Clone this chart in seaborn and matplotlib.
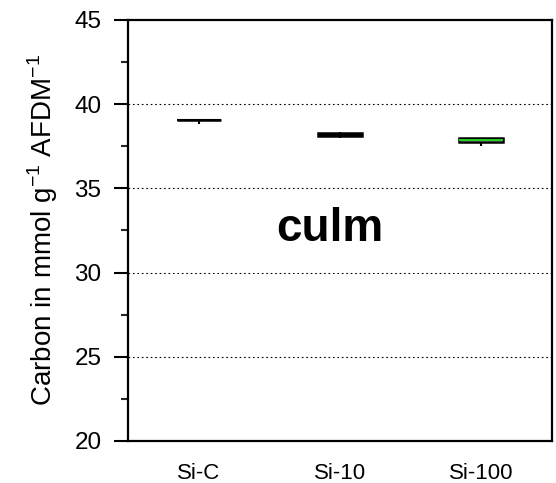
import numpy as np
import pandas as pd
import seaborn as sns
import matplotlib
matplotlib.use("Agg")
import matplotlib.pyplot as plt
from matplotlib.ticker import MultipleLocator

categories = ["Si-C", "Si-10", "Si-100"]
si_c = [38.82, 39.05, 39.06, 39.06, 39.07]
si_10 = [37.98, 38.12, 38.20, 38.28, 38.33]
si_100 = [37.52, 37.75, 37.87, 37.98, 38.00]
median_colors = ["black", "black", "#22cc22"]
box_fills = ["white", "black", "white"]
ylabel = "Carbon in mmol g$^{-1}$ AFDM$^{-1}$"
annotation = "culm"

sns.set_theme(style="white")
plt.rcParams["font.family"] = ["Liberation Sans", "DejaVu Sans"]
plt.rcParams["mathtext.fontset"] = "custom"
plt.rcParams["mathtext.rm"] = "Liberation Sans"

df = pd.DataFrame({
    "group": np.repeat(categories, [len(si_c), len(si_10), len(si_100)]),
    "value": si_c + si_10 + si_100,
})

fig = plt.figure(figsize=(5.56, 4.83), dpi=100)
ax = fig.add_axes([0.230, 0.087, 0.763, 0.872])

sns.boxplot(data=df, x="group", y="value", order=categories, ax=ax,
            width=0.31, whis=np.inf, showcaps=False,
            boxprops=dict(facecolor="white", edgecolor="black", linewidth=1.8),
            whiskerprops=dict(color="black", linewidth=1.5),
            medianprops=dict(color="black", linewidth=1.8))

for patch, fc in zip(ax.patches, box_fills):
    patch.set_facecolor(fc)

nlines = len(ax.lines) // len(categories)
for i, c in enumerate(median_colors):
    for ln in ax.lines[i * nlines:(i + 1) * nlines]:
        xd = ln.get_xdata()
        yd = ln.get_ydata()
        if len(yd) == 2 and yd[0] == yd[1] and abs(xd[1] - xd[0]) > 0.1:
            ln.set_color(c)
            ln.set_linewidth(1.5)

ax.set_ylim(20, 45)
ax.set_xlim(-0.5, 2.5)
ax.yaxis.set_major_locator(MultipleLocator(5))
ax.yaxis.set_minor_locator(MultipleLocator(2.5))
for yv in [25, 30, 35, 40]:
    ax.axhline(yv, color="black", linestyle=(0, (1.5, 2.5)), linewidth=0.8, zorder=0)

for s in ax.spines.values():
    s.set_visible(True)
    s.set_color("black")
    s.set_linewidth(1.6)

ax.tick_params(axis="y", which="major", direction="out", length=10, width=1.5,
               labelsize=17.5, left=True, pad=9, colors="black")
ax.tick_params(axis="y", which="minor", direction="out", length=5, width=1.5, left=True)
ax.tick_params(axis="x", which="both", bottom=False, labelsize=16, pad=10)
for t in ax.get_yticklabels():
    t.set_color("black")
for t in ax.get_xticklabels():
    t.set_color("black")

ax.set_xlabel("")
ax.set_ylabel(ylabel, fontsize=20, color="black", labelpad=10)
ax.text(0.93, 32.6, annotation, fontsize=33, fontweight="bold",
        ha="center", va="center", color="black")

fig.savefig("out.png", dpi=100)
